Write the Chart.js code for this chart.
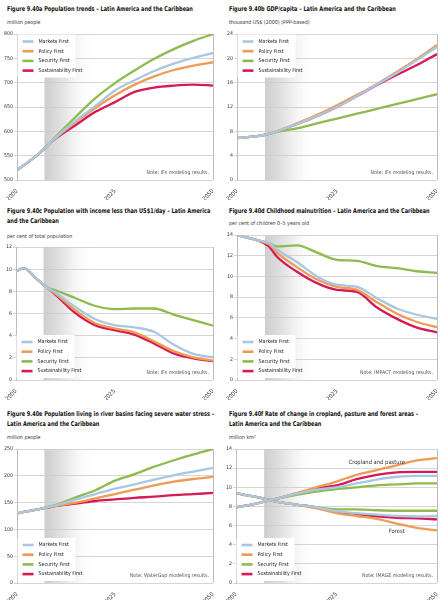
<!DOCTYPE html>
<html>
<head>
<meta charset="utf-8">
<script src="https://cdn.jsdelivr.net/npm/chart.js@4.4.1/dist/chart.umd.min.js"></script>
<style>
body { margin: 0; background: #fff; width: 448px; height: 600px; position: relative; overflow: hidden;
       font-family: "Liberation Sans Narrow", "DejaVu Sans Condensed", sans-serif; }
.panel { position: absolute; width: 224px; height: 200px; }
.panel canvas { position: absolute; left: 0; top: 0; }
.title { position: absolute; font-weight: bold; font-size: 6.6px; line-height: 9.5px; color: #111; white-space: nowrap;
         transform: scaleX(0.84); transform-origin: 0 0; }
.unit { position: absolute; font-size: 5.3px; line-height: 7px; color: #333; white-space: nowrap; }
</style>
</head>
<body>

<div class="panel" style="left:0;top:0">
  <div class="title" style="left:7px;top:5px">Figure 9.40a Population trends – Latin America and the Caribbean</div>
  <div class="unit" style="left:7px;top:19px">million people</div>
  <canvas id="chartA" width="224" height="200"></canvas>
</div>
<div class="panel" style="left:224px;top:0">
  <div class="title" style="left:5px;top:5px">Figure 9.40b GDP/capita – Latin America and the Caribbean</div>
  <div class="unit" style="left:5px;top:19px">thousand US$ (2000) (PPP-based)</div>
  <canvas id="chartB" width="224" height="200"></canvas>
</div>
<div class="panel" style="left:0;top:200px">
  <div class="title" style="left:7px;top:7px">Figure 9.40c Population with income less than US$1/day – Latin America<br>and the Caribbean</div>
  <div class="unit" style="left:7px;top:33px">per cent of total population</div>
  <canvas id="chartC" width="224" height="200"></canvas>
</div>
<div class="panel" style="left:224px;top:200px">
  <div class="title" style="left:5px;top:7px">Figure 9.40d Childhood malnutrition – Latin America and the Caribbean</div>
  <div class="unit" style="left:5px;top:20px">per cent of children 0–5 years old</div>
  <canvas id="chartD" width="224" height="200"></canvas>
</div>
<div class="panel" style="left:0;top:400px">
  <div class="title" style="left:7px;top:10px">Figure 9.40e Population living in river basins facing severe water stress –<br>Latin America and the Caribbean</div>
  <div class="unit" style="left:7px;top:34px">million people</div>
  <canvas id="chartE" width="224" height="200"></canvas>
</div>
<div class="panel" style="left:224px;top:400px">
  <div class="title" style="left:5px;top:10px">Figure 9.40f Rate of change in cropland, pasture and forest areas –<br>Latin America and the Caribbean</div>
  <div class="unit" style="left:5px;top:34px">million km²</div>
  <canvas id="chartF" width="224" height="200"></canvas>
</div>

<script>
// common
const years = [2000, 2002, 2005, 2008, 2010, 2015, 2020, 2025, 2030, 2035, 2040, 2045, 2050];
const xTicks = [2000, 2025, 2050];
const scenarios = ['Markets First', 'Policy First', 'Security First', 'Sustainability First'];
const colors = ['#a9c7e2', '#ef9b56', '#8fba4e', '#d51a55'];
const halos = ['rgba(169,199,226,0.6)', 'rgba(239,155,86,0.5)', 'rgba(143,186,78,0.5)', 'rgba(213,26,85,0.45)'];
const bandStart = 2007, bandEnd = 2020;

// a) population, million people
const popMarkets = [520, 532, 550, 572, 588, 622, 652, 684, 705, 724, 739, 751, 761];
const popPolicy = [520, 532, 550, 572, 587, 619, 648, 674, 696, 713, 726, 735, 742];
const popSecurity = [520, 532, 550, 573, 590, 630, 668, 699, 725, 749, 769, 786, 800];
const popSustain = [520, 532, 550, 572, 586, 613, 640, 660, 681, 690, 694, 696, 694];

// b) GDP per capita, thousand US$
const gdpMarkets = [6.9, 7.0, 7.2, 7.6, 8.0, 9.2, 10.5, 12.0, 13.8, 15.7, 17.6, 19.7, 21.9];
const gdpPolicy = [6.9, 7.0, 7.2, 7.6, 8.0, 9.3, 10.7, 12.3, 14.0, 15.8, 17.8, 19.9, 22.2];
const gdpSecurity = [6.9, 7.0, 7.2, 7.6, 7.9, 8.5, 9.3, 10.1, 10.9, 11.7, 12.5, 13.3, 14.1];
const gdpSustain = [6.9, 7.0, 7.2, 7.6, 8.0, 9.2, 10.5, 12.0, 13.8, 15.6, 17.3, 18.9, 20.7];

// c) income below US$1/day, per cent
const povMarkets = [9.8, 10.1, 9.2, 8.3, 7.9, 6.6, 5.5, 4.95, 4.75, 4.35, 3.2, 2.35, 2.05];
const povPolicy = [9.8, 10.1, 9.2, 8.3, 7.8, 6.3, 5.15, 4.65, 4.3, 3.5, 2.6, 2.05, 1.75];
const povSecurity = [9.8, 10.1, 9.2, 8.35, 8.1, 7.4, 6.7, 6.4, 6.45, 6.45, 5.9, 5.4, 4.9];
const povSustain = [9.8, 10.1, 9.2, 8.3, 7.7, 6.05, 4.95, 4.5, 4.1, 3.3, 2.4, 1.95, 1.7];

// d) childhood malnutrition, per cent
const malMarkets = [14.0, 13.8, 13.5, 13.2, 12.6, 11.4, 10.0, 9.2, 9.0, 7.9, 6.9, 6.3, 5.9];
const malPolicy = [14.0, 13.8, 13.5, 13.1, 12.3, 10.9, 9.7, 9.0, 8.7, 7.5, 6.4, 5.6, 5.1];
const malSecurity = [14.0, 13.8, 13.5, 13.2, 12.9, 13.0, 12.3, 11.6, 11.5, 11.0, 10.8, 10.5, 10.35];
const malSustain = [14.0, 13.8, 13.5, 12.9, 11.9, 10.45, 9.35, 8.7, 8.5, 7.0, 5.9, 5.05, 4.6];

// e) water stress, million people
const watMarkets = [130, 133, 137, 142, 145, 156, 166, 176, 184, 193, 201, 208, 215];
const watPolicy = [130, 133, 137, 141, 144, 150, 158, 166, 174, 182, 189, 194, 198];
const watSecurity = [130, 133, 137, 142, 146, 160, 173, 191, 203, 217, 229, 240, 250];
const watSustain = [130, 133, 137, 141, 144, 148, 153, 156, 159, 161, 164, 166, 168];

// f) land areas, million km2
const cropMarkets = [7.9, 8.05, 8.3, 8.6, 8.8, 9.3, 9.75, 10.0, 10.4, 10.8, 11.1, 11.2, 11.2];
const cropPolicy = [7.9, 8.05, 8.3, 8.6, 8.8, 9.4, 10.0, 10.6, 11.3, 11.8, 12.3, 12.8, 13.05];
const cropSecurity = [7.9, 8.05, 8.3, 8.6, 8.8, 9.2, 9.55, 9.8, 10.0, 10.2, 10.3, 10.4, 10.4];
const cropSustain = [7.9, 8.05, 8.3, 8.6, 8.8, 9.3, 9.9, 10.2, 10.85, 11.3, 11.55, 11.6, 11.6];
const forMarkets = [9.4, 9.2, 9.0, 8.7, 8.5, 8.2, 7.9, 7.5, 7.3, 7.15, 7.0, 6.95, 7.0];
const forPolicy = [9.4, 9.2, 9.0, 8.7, 8.5, 8.2, 7.8, 7.3, 7.0, 6.7, 6.2, 5.75, 5.5];
const forSecurity = [9.4, 9.2, 9.0, 8.7, 8.5, 8.2, 7.9, 7.7, 7.7, 7.6, 7.55, 7.55, 7.55];
const forSustain = [9.4, 9.2, 9.0, 8.7, 8.5, 8.2, 7.9, 7.4, 7.2, 6.95, 6.8, 6.75, 6.65];
const landLabels = ['Cropland and pasture', 'Forest'];
const landLabelYears = [2035, 2040];
const landLabelValues = [12.6, 5.4];

const FONT = '"Liberation Sans Narrow", "DejaVu Sans Condensed", sans-serif';
Chart.defaults.font.family = FONT;

// grey band, legend box, note, right frame
const decor = {
    id: 'decor',
    beforeDraw(chart, args, opt) {
        const { ctx, chartArea: a, scales: { x } } = chart;
        const x0 = x.getPixelForValue(bandStart), x1 = x.getPixelForValue(bandEnd);
        const g = ctx.createLinearGradient(x0, 0, x1, 0);
        g.addColorStop(0, '#cdcdcd');
        g.addColorStop(0.4, '#e6e6e6');
        g.addColorStop(1, 'rgba(255,255,255,0)');
        ctx.save();
        ctx.fillStyle = g;
        ctx.fillRect(x0, a.top, x1 - x0, a.bottom - a.top);
        ctx.restore();
    },
    beforeDatasetDraw(chart, args) {
        const ctx = chart.ctx;
        ctx.save();
        ctx.shadowColor = args.meta.dataset.options.shadow || 'rgba(0,0,0,0)';
        ctx.shadowBlur = 2.5;
    },
    afterDatasetDraw(chart) { chart.ctx.restore(); },
    afterDatasetsDraw(chart, args, opt) {
        const { ctx, chartArea: a, scales: { x, y } } = chart;
        ctx.save();
        // right frame
        ctx.strokeStyle = '#bdbdbd';
        ctx.lineWidth = 1;
        ctx.beginPath();
        ctx.moveTo(Math.round(a.right) + 0.5, a.top);
        ctx.lineTo(Math.round(a.right) + 0.5, a.bottom);
        ctx.stroke();
        // legend
        const bw = 58, bh = 43;
        const bx = a.left + 0.5;
        const by = opt.legend === 'top' ? a.top + 0.5 : a.bottom - bh - 2;
        ctx.fillStyle = '#fff';
        ctx.fillRect(bx, by, bw, bh);
        ctx.font = '5.3px ' + FONT;
        ctx.textBaseline = 'middle';
        scenarios.forEach((name, i) => {
            const ly = by + 7 + i * 9.7;
            ctx.strokeStyle = colors[i];
            ctx.lineWidth = 2.6;
            ctx.beginPath();
            ctx.moveTo(bx + 5, ly);
            ctx.lineTo(bx + 16, ly);
            ctx.stroke();
            ctx.fillStyle = '#222';
            ctx.fillText(name, bx + 21, ly);
        });
        // note
        ctx.font = '5.2px ' + FONT;
        ctx.fillStyle = '#555';
        ctx.textAlign = 'right';
        ctx.fillText(opt.note, a.right - 4, a.bottom - 7);
        // text labels on the plot
        (opt.labels || []).forEach(l => {
            ctx.textAlign = 'center';
            ctx.fillStyle = '#333';
            ctx.font = '5.8px ' + FONT;
            ctx.fillText(l.text, x.getPixelForValue(l.x), y.getPixelForValue(l.y));
        });
        ctx.restore();
    }
};

function series(values, i) {
    return {
        data: values.map((v, k) => ({ x: years[k], y: v })),
        borderColor: colors[i],
        shadow: halos[i],
        borderWidth: 2.3,
        pointRadius: 0,
        cubicInterpolationMode: 'monotone',
        fill: false
    };
}

function makePanel(id, sets, cfg) {
    new Chart(document.getElementById(id), {
        type: 'line',
        data: { datasets: sets },
        options: {
            responsive: false,
            animation: false,
            devicePixelRatio: 1,
            layout: { padding: { top: cfg.top, right: 11, left: 0, bottom: 0 } },
            plugins: {
                legend: { display: false },
                tooltip: { enabled: false },
                decor: { legend: cfg.legend, note: cfg.note, labels: cfg.labels }
            },
            scales: {
                x: {
                    type: 'linear', min: 2000, max: 2050,
                    afterFit(s) { s.height = cfg.xh; },
                    afterBuildTicks(s) { s.ticks = xTicks.map(v => ({ value: v })); },
                    ticks: { minRotation: 45, maxRotation: 45, padding: 0, color: '#333', font: { size: 5.8 }, callback: v => String(v) },
                    grid: { display: false },
                    border: { display: false }
                },
                y: {
                    min: cfg.min, max: cfg.max,
                    afterFit(s) { s.width = cfg.yw; },
                    ticks: { stepSize: cfg.step, padding: 1, color: '#333', font: { size: 5.2 } },
                    grid: { color: '#cbcbcb', lineWidth: 0.8, tickLength: 3 },
                    border: { color: '#bdbdbd' }
                }
            }
        },
        plugins: [decor]
    });
}

makePanel('chartA', [popMarkets, popPolicy, popSecurity, popSustain].map(series),
    { top: 34, yw: 17, xh: 20, min: 500, max: 800, step: 50, legend: 'top', note: 'Note: IFs modeling results.' });
makePanel('chartB', [gdpMarkets, gdpPolicy, gdpSecurity, gdpSustain].map(series),
    { top: 34, yw: 13, xh: 20, min: 0, max: 24, step: 4, legend: 'top', note: 'Note: IFs modeling results.' });
makePanel('chartC', [povMarkets, povPolicy, povSecurity, povSustain].map(series),
    { top: 47, yw: 16, xh: 20, min: 0, max: 12, step: 2, legend: 'bottom', note: 'Note: IFs modeling results.' });
makePanel('chartD', [malMarkets, malPolicy, malSecurity, malSustain].map(series),
    { top: 35, yw: 13, xh: 20, min: 0, max: 14, step: 2, legend: 'bottom', note: 'Note: IMPACT modeling results.' });
makePanel('chartE', [watMarkets, watPolicy, watSecurity, watSustain].map(series),
    { top: 49, yw: 17, xh: 17, min: 0, max: 250, step: 50, legend: 'bottom', note: 'Note: WaterGap modeling results.' });
makePanel('chartF', [cropMarkets, cropPolicy, cropSecurity, cropSustain].map(series)
        .concat([forMarkets, forPolicy, forSecurity, forSustain].map(series)),
    { top: 49, yw: 12, xh: 17, min: 0, max: 14, step: 2, legend: 'bottom', note: 'Note: IMAGE modeling results.',
      labels: landLabels.map((t, i) => ({ text: t, x: landLabelYears[i], y: landLabelValues[i] })) });
</script>
</body>
</html>
